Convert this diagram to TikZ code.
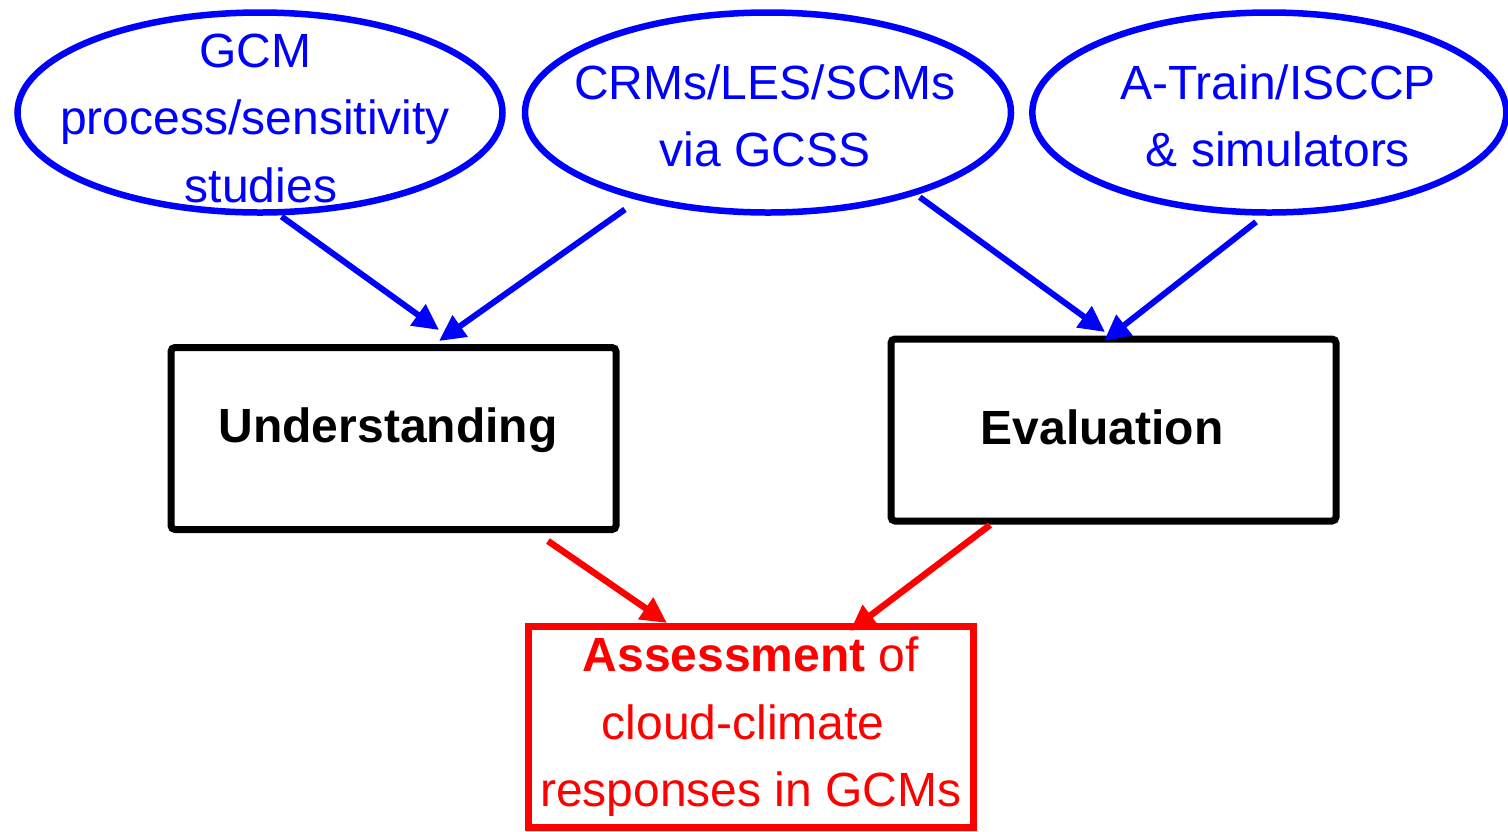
\documentclass[tikz,border=0pt]{standalone}
\usepackage{fontspec}
\setmainfont{Liberation Sans}
\usetikzlibrary{shapes.geometric, arrows.meta, positioning}

\begin{document}
\begin{tikzpicture}[
        x=0.5pt, y=-0.5pt,
        source/.style={
            ellipse,
            draw=blue,
            line width=3.25pt,
            minimum width=243pt,
            minimum height=100pt,
            inner sep=0pt
        },
        srctext/.style={
            text=blue,
            align=center,
            inner sep=0pt,
            font=\fontsize{24}{33.75}\selectfont
        },
        stage/.style={
            rectangle,
            draw=black,
            line width=3.5pt,
            rounded corners=2pt,
            minimum width=222.5pt,
            minimum height=91pt
        },
        stagetext/.style={
            inner sep=0pt,
            font=\fontsize{24}{33.75}\selectfont\bfseries
        },
        result/.style={
            rectangle,
            draw=red,
            line width=3.5pt,
            text=red,
            align=center,
            inner sep=2pt,
            minimum width=222.25pt,
            minimum height=100.25pt,
            font=\fontsize{24}{33.75}\selectfont
        },
        feed/.style={
            -{Triangle[length=13pt,width=12.5pt]},
            line width=3pt,
            draw=blue
        },
        link/.style={
            -{Triangle[length=13pt,width=12.5pt]},
            line width=3.25pt,
            draw=red
        }
    ]

    \useasboundingbox (0,0) rectangle (1508,831);

    % sources
    \node (gcm) [source, minimum width=242.5pt] at (260,112.5) {};

    \node (crm) [source, right=8pt of gcm] {};

    \node (obs) [source, minimum width=237pt, right=7.4pt of crm] {};

    \node (gcmtext) [srctext] at (255,118.3) {GCM\\process/sensitivity\\\hspace*{6pt}studies};

    \node (crmtext) [srctext] at (765,116) {CRMs/LES/SCMs\\via GCSS};

    \node (obstext) [srctext] at (1278,116) {A-Train/ISCCP\\\& simulators};

    % stages
    \node (und) [stage] at (393.5,438.5) {};

    \node (eval) [stage] at (1113.5,430) {};

    \node (undtext) [stagetext] at (388,430.5) {Understanding};

    \node (evaltext) [stagetext] at (1102,427) {Evaluation};

    \node (assess) [result] at (750.75,726.75) {\textbf{Assessment} of\\\hspace*{-7.5pt}cloud-climate\\responses in GCMs};

    \draw [feed, shorten <=1pt] (gcm.-79) -- ([shift={(45.5,-14)}]und.north);

    \draw [feed, shorten <=8pt] (crm.214.5) -- ([shift={(45.5,-3)}]und.north);

    \draw [feed, shorten <=2pt] (crm.-29.7) -- ([shift={(-8.5,-3.5)}]eval.north);

    \draw [feed, shorten <=5pt] (obs.-93.3) -- ([shift={(-9.5,5.5)}]eval.north);

    \draw [link] ([shift={(154.5,8)}]und.south) -- ([shift={(-83.75,0)}]assess.north);

    \draw [link] ([shift={(-123.5,0.5)}]eval.south) -- ([shift={(99.25,8)}]assess.north);

\end{tikzpicture}
\end{document}
